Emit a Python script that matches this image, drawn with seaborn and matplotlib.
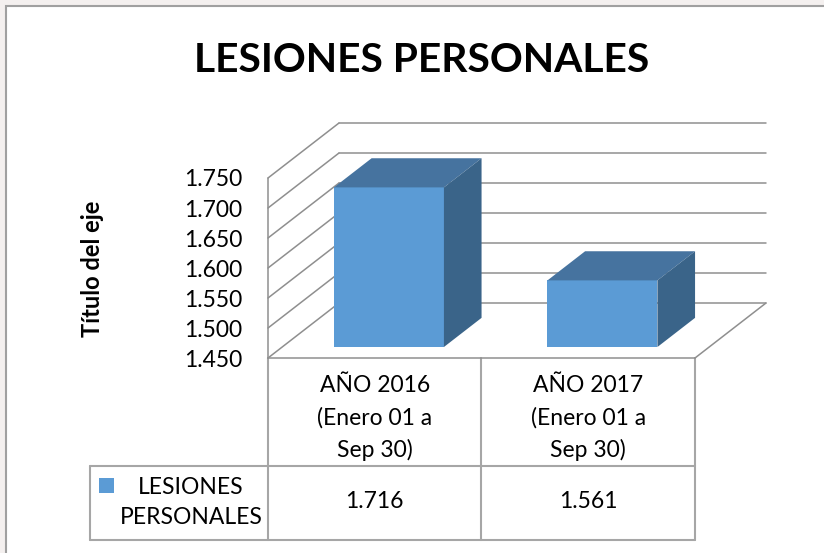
import matplotlib
matplotlib.use("Agg")
import matplotlib.pyplot as plt
import numpy as np
import pandas as pd
import seaborn as sns
from matplotlib.patches import Polygon, Rectangle

# ---------------- data ----------------
title = "LESIONES PERSONALES"
series_name = "LESIONES PERSONALES"
categories = ["AÑO 2016\n(Enero 01 a\nSep 30)", "AÑO 2017\n(Enero 01 a\nSep 30)"]
values = [1716, 1561]
y_ticks = [1450, 1500, 1550, 1600, 1650, 1700, 1750]
y_label = "Título del eje"

# ---------------- style ----------------
sns.set_theme(style="white")
plt.rcParams['font.family'] = ['Lato', 'DejaVu Sans']

FRONT = '#5B9BD5'
TOP = '#46739F'
SIDE = '#3A6489'
GRID = '#8F8F8F'
TABLE = '#A6A6A6'
FS = 16.5


def fmt(v):
    return f"{v:,}".replace(",", ".")


W, H = 824, 553
fig = plt.figure(figsize=(W / 100, H / 100), dpi=100)
fig.patch.set_facecolor('#F4F0EF')
fig.add_artist(Rectangle((6 / W, -0.1), 1.2, (H - 6) / H + 0.1,
                         transform=fig.transFigure, facecolor='white',
                         edgecolor='#A0A0A0', lw=1.5, zorder=0))

# front plane of the 3D plot area (pixels)
L, R, T, B = 268, 695, 178, 358
n = len(values)
ax = fig.add_axes([L / W, 1 - B / H, (R - L) / W, (B - T) / H], zorder=2)
ax.patch.set_alpha(0)

df = pd.DataFrame({"cat": categories, "val": values})
sns.barplot(data=df, x="cat", y="val", color=FRONT, saturation=1,
            width=0.515, ax=ax, zorder=3, errorbar=None)

ymin, ymax = y_ticks[0], y_ticks[-1]
ax.set_xlim(-0.5, n - 0.5)
ax.set_ylim(ymin, ymax)

# depth vector in data units (full depth = 71 px right, 55 px up)
DX = 71 / ((R - L) / n)
DY = 55 * (ymax - ymin) / (B - T)

# walls and floor
for t in y_ticks:
    ax.plot([-0.5, -0.5 + DX], [t, t + DY], color=GRID, lw=1.1, clip_on=False, zorder=1)
    ax.plot([-0.5 + DX, n - 0.5 + DX], [t + DY, t + DY], color=GRID, lw=1.1, clip_on=False, zorder=1)
ax.plot([-0.5, -0.5], [ymin, ymax], color=GRID, lw=1.1, clip_on=False, zorder=1)
ax.plot([-0.5, n - 0.5], [ymin, ymin], color=GRID, lw=1.1, clip_on=False, zorder=1)
ax.plot([n - 0.5, n - 0.5 + DX], [ymin, ymin + DY], color=GRID, lw=1.1, clip_on=False, zorder=1)

# 3D bars
d0, bd = 0.2, 0.53
for p, v in zip(list(ax.patches), values):
    x0 = p.get_x() + d0 * DX
    w = p.get_width()
    bottom = ymin + d0 * DY
    top = v + d0 * DY
    p.set_x(x0)
    p.set_y(bottom)
    p.set_height(top - bottom)
    p.set_clip_on(False)
    p.set_edgecolor('none')
    ax.add_patch(Polygon([(x0, top), (x0 + w, top), (x0 + w + bd * DX, top + bd * DY),
                          (x0 + bd * DX, top + bd * DY)], closed=True,
                         facecolor=TOP, edgecolor='none', clip_on=False, zorder=3))
    ax.add_patch(Polygon([(x0 + w, bottom), (x0 + w, top), (x0 + w + bd * DX, top + bd * DY),
                          (x0 + w + bd * DX, bottom + bd * DY)], closed=True,
                         facecolor=SIDE, edgecolor='none', clip_on=False, zorder=3))

ax.set_yticks(y_ticks)
ax.set_yticklabels([fmt(t) for t in y_ticks], fontsize=FS, color='black')
ax.tick_params(axis='y', length=0, pad=18.7)
ax.set_xticks([])
ax.set_xlabel('')
ax.set_ylabel('')
for s in ax.spines.values():
    s.set_visible(False)

# overlay in pixel coordinates for the data table
ov = fig.add_axes([0, 0, 1, 1], zorder=1)
ov.patch.set_alpha(0)
ov.set_xlim(0, W)
ov.set_ylim(H, 0)
ov.axis('off')

col_w = (R - L) / n
row_y = 466
bot_y = 540
tl = dict(color=TABLE, lw=1.5)
ov.plot([90, R], [row_y, row_y], **tl)
ov.plot([90, R], [bot_y, bot_y], **tl)
ov.plot([90, 90], [row_y, bot_y], **tl)
for i in range(n + 1):
    ov.plot([L + i * col_w] * 2, [B, bot_y], **tl)

for i, (cat, v) in enumerate(zip(categories, values)):
    cx = L + (i + 0.5) * col_w
    for j, line in enumerate(cat.split("\n")):
        ov.text(cx, 386 + j * 32, line, ha='center', va='center', fontsize=FS, color='black')
    ov.text(cx, 502, fmt(v), ha='center', va='center', fontsize=FS, color='black')

ov.add_patch(Rectangle((99, 478), 15, 15, facecolor=FRONT, edgecolor='none'))
for j, line in enumerate(series_name.split(" ")):
    ov.text(191, 487 + j * 31, line, ha='center', va='center', fontsize=FS, color='black')

fig.text(421.5 / W, 1 - 72 / H, title, ha='center', va='baseline',
         fontsize=29.3, fontweight='bold', color='black')
fig.text(93 / W, 1 - 269 / H, y_label, rotation=90, ha='center', va='center',
         fontsize=17, fontweight='bold', color='black')

fig.savefig('out.png', dpi=100, facecolor=fig.get_facecolor())
